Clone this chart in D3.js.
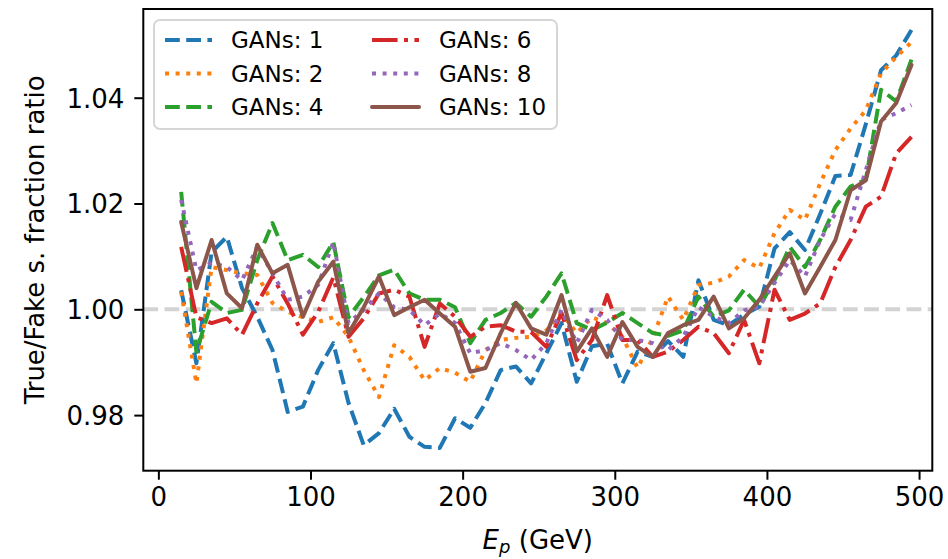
<!DOCTYPE html>
<html><head><meta charset="utf-8">
<script src="https://cdn.jsdelivr.net/npm/d3@7"></script>
<style>
html,body{margin:0;padding:0;background:#fff;}
svg text{font-family:"DejaVu Sans",sans-serif;fill:#000;}
</style></head>
<body><svg id="c" width="948" height="559"></svg>
<script>
const energies = [15,25,35,45,55,65,75,85,95,105,115,125,135,145,155,165,175,185,195,205,215,225,235,245,255,265,275,285,295,305,315,325,335,345,355,365,375,385,395,405,415,425,435,445,455,465,475,485,495];
const gans1 = [1.0036,0.9898,1.0108,1.0137,1.0040,0.9986,0.9923,0.9806,0.9816,0.9885,0.9936,0.9823,0.9743,0.9766,0.9812,0.9759,0.9740,0.9738,0.9794,0.9776,0.9823,0.9885,0.9892,0.9860,0.9917,0.9974,0.9863,0.9930,0.9935,0.9860,0.9920,0.9910,0.9940,0.9910,1.0055,0.9980,0.9970,0.9990,1.0005,1.0115,1.0146,1.0112,1.0180,1.0252,1.0254,1.0350,1.0452,1.0480,1.0528];
const gans2 = [1.0033,0.9860,1.0080,1.0074,1.0068,1.0065,1.0012,0.9995,0.9985,0.9976,0.9985,0.9948,0.9885,0.9834,0.9932,0.9910,0.9866,0.9889,0.9880,0.9863,0.9923,0.9942,0.9946,0.9948,0.9960,0.9993,0.9955,0.9985,0.9974,0.9948,0.9889,0.9946,1.0024,0.9980,1.0046,1.0050,1.0062,1.0093,1.0078,1.0144,1.0188,1.0169,1.0238,1.0301,1.0342,1.0376,1.0446,1.0477,1.0505];
const gans4 = [1.0222,0.9919,1.0014,0.9993,0.9999,1.0093,1.0163,1.0093,1.0103,1.0080,1.0127,0.9985,1.0023,1.0064,1.0075,1.0030,1.0018,1.0018,1.0004,0.9936,0.9980,0.9993,1.0012,0.9986,1.0024,1.0068,0.9974,0.9961,0.9975,0.9993,0.9974,0.9955,0.9950,0.9960,1.0024,0.9986,0.9998,1.0037,1.0005,1.0055,1.0118,1.0080,1.0131,1.0194,1.0232,1.0245,1.0415,1.0393,1.0472];
const gans6 = [1.0118,0.9985,0.9974,0.9983,0.9952,1.0011,1.0062,1.0011,0.9952,0.9995,1.0060,0.9948,0.9983,1.0030,1.0037,1.0024,0.9929,1.0011,0.9986,0.9948,0.9967,0.9970,0.9958,0.9957,0.9929,0.9993,0.9904,0.9942,1.0027,0.9942,0.9942,0.9910,0.9920,0.9942,0.9967,0.9955,0.9917,0.9980,0.9898,1.0037,0.9980,0.9992,1.0011,1.0080,1.0131,1.0194,1.0213,1.0295,1.0326];
const gans8 = [1.0207,1.0074,1.0088,1.0080,1.0055,1.0118,1.0068,1.0018,1.0024,1.0046,1.0127,0.9974,0.9999,1.0030,1.0004,0.9999,0.9970,0.9992,0.9974,0.9917,0.9923,0.9936,0.9923,0.9904,0.9936,0.9999,0.9936,0.9999,0.9980,0.9942,0.9942,0.9936,0.9923,0.9948,1.0004,0.9986,0.9974,0.9998,1.0005,1.0050,1.0093,1.0062,1.0131,1.0181,1.0169,1.0263,1.0358,1.0371,1.0386];
const gans10 = [1.0165,1.0040,1.0131,1.0030,1.0002,1.0122,1.0068,1.0084,0.9986,1.0052,1.0090,0.9955,1.0004,1.0062,0.9989,1.0004,1.0018,0.9992,0.9967,0.9882,0.9889,0.9955,1.0012,0.9964,0.9952,1.0027,0.9920,0.9964,0.9910,0.9976,0.9929,0.9910,0.9955,0.9970,0.9980,1.0024,0.9964,0.9983,1.0018,1.0062,1.0106,1.0030,1.0080,1.0131,1.0225,1.0244,1.0355,1.0390,1.0462];
const seriesNames = ["GANs: 1","GANs: 2","GANs: 4","GANs: 6","GANs: 8","GANs: 10"];
const xTicks = [0,100,200,300,400,500];
const yTicks = [0.98,1.00,1.02,1.04];

const colors = ["#1f77b4","#ff7f0e","#2ca02c","#d62728","#9467bd","#8c564b"];
const lw = 4;
const dashes = [
  [14.8,6.4].join(","),
  [4,6.6].join(","),
  [14.8,6.4].join(","),
  [25.6,6.4,4,6.4].join(","),
  [4,6.6].join(","),
  null
];
const allSeries = [gans1,gans2,gans4,gans6,gans8,gans10];

const L=143.3, R=932.3, T=9, B=470.7;
const x = d3.scaleLinear().domain([-9.9,508.7]).range([L,R]);
const y = d3.scaleLinear().domain([0.96949,1.05677]).range([B,T]);
const svg = d3.select("#c");

svg.append("defs").append("clipPath").attr("id","clip")
  .append("rect").attr("x",L).attr("y",T).attr("width",R-L).attr("height",B-T);

const plot = svg.append("g").attr("clip-path","url(#clip)");
plot.append("line").attr("x1",L).attr("x2",R).attr("y1",y(1)).attr("y2",y(1))
  .attr("stroke","#d3d3d3").attr("stroke-width",4).attr("stroke-dasharray","14.8,6.4");

const line = d3.line().x((d,i)=>x(energies[i])).y(d=>y(d));
allSeries.forEach((s,k)=>{
  const p = plot.append("path").datum(s).attr("d",line)
    .attr("fill","none").attr("stroke",colors[k]).attr("stroke-width",lw)
    .attr("stroke-linejoin","round").attr("stroke-linecap", dashes[k]? "butt":"round");
  if(dashes[k]) p.attr("stroke-dasharray",dashes[k]);
});

const xAxis = svg.append("g").attr("transform",`translate(0,${B})`)
  .call(d3.axisBottom(x).tickValues(xTicks).tickFormat(d3.format("d")).tickSize(9).tickPadding(8));
const yAxis = svg.append("g").attr("transform",`translate(${L},0)`)
  .call(d3.axisLeft(y).tickValues(yTicks).tickFormat(d3.format(".2f")).tickSize(9).tickPadding(10));
[xAxis,yAxis].forEach(a=>{
  a.select(".domain").remove();
  a.selectAll(".tick line").attr("stroke","#000").attr("stroke-width",2);
  a.selectAll(".tick text").attr("font-size",26).attr("font-family","DejaVu Sans").attr("fill","#000");
});
yAxis.selectAll(".tick text").attr("dy","0.36em");

svg.append("rect").attr("x",L).attr("y",T).attr("width",R-L).attr("height",B-T)
  .attr("fill","none").attr("stroke","#000").attr("stroke-width",2);

const xl = svg.append("text").attr("x",(L+R)/2).attr("y",549).attr("text-anchor","middle").attr("font-size",26);
xl.append("tspan").attr("font-style","italic").text("E");
xl.append("tspan").attr("font-style","italic").attr("font-size",18).attr("dy",4).text("p");
xl.append("tspan").attr("dy",-4).text(" (GeV)");

svg.append("text").attr("transform",`translate(44,${(T+B)/2}) rotate(-90)`)
  .attr("text-anchor","middle").attr("font-size",26).text("True/Fake s. fraction ratio");

const lg = svg.append("g");
lg.append("rect").attr("x",154).attr("y",20).attr("width",403).attr("height",109).attr("rx",6)
  .attr("fill","#fff").attr("fill-opacity",0.8).attr("stroke","#d6d6d6").attr("stroke-width",2);
const rowsY = [40,73.5,107];
seriesNames.forEach((n,k)=>{
  const col = Math.floor(k/3), row = k%3;
  const hx = col===0 ? 165 : 372, tx = col===0 ? 231 : 439;
  const ly = rowsY[row];
  const h = lg.append("line").attr("x1",hx).attr("x2",hx+47).attr("y1",ly).attr("y2",ly)
    .attr("stroke",colors[k]).attr("stroke-width",lw).attr("stroke-linecap",dashes[k]?"butt":"round");
  if(dashes[k]) h.attr("stroke-dasharray",dashes[k]);
  lg.append("text").attr("x",tx).attr("y",ly+8.3).attr("font-size",23).text(n);
});
</script></body></html>
